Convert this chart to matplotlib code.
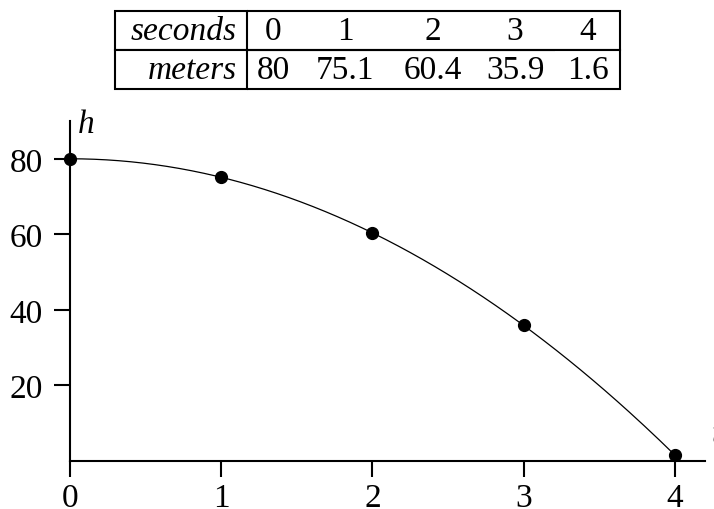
import numpy as np
import matplotlib
matplotlib.use('Agg')
import matplotlib.pyplot as plt

seconds = [0, 1, 2, 3, 4]
meters = [80, 75.1, 60.4, 35.9, 1.6]
x_ticks = [0, 1, 2, 3, 4]
y_ticks = [20, 40, 60, 80]
row_labels = ['seconds', 'meters']

plt.rcParams['font.family'] = ['Liberation Serif', 'DejaVu Serif']

W, H = 714, 510
fig = plt.figure(figsize=(W / 100, H / 100), dpi=100)

# plot axes
ax = fig.add_axes([70 / W, (H - 462) / H, (705 - 70) / W, (462 - 122) / H])
ax.set_xlim(0, 4.2)
ax.set_ylim(0, 90)
ax.spines['top'].set_visible(False)
ax.spines['right'].set_visible(False)
for s in ['left', 'bottom']:
    ax.spines[s].set_linewidth(1.5)
ax.set_xticks(x_ticks)
ax.set_yticks(y_ticks)
ax.tick_params(direction='out', length=11.5, width=1.5, labelsize=24)
ax.tick_params(axis='x', pad=4)
ax.tick_params(axis='y', pad=8)

# quadratic model fitted to the table values
coef = np.polyfit(seconds, meters, 2)
tt = np.linspace(seconds[0], seconds[-1], 200)
ax.plot(tt, np.polyval(coef, tt), color='black', lw=0.9)
ax.plot(seconds, meters, 'o', color='black', ms=8.5, clip_on=False, zorder=5)

ax.text(0.05, 87.2, 'h', fontsize=24, style='italic', ha='left', va='baseline')
ax.text(4.245, 5.0, 't', fontsize=24, style='italic', ha='left', va='baseline',
        clip_on=False)

# value table on top
tax = fig.add_axes([115 / W, (H - 90) / H, (620 - 115) / W, (90 - 12) / H])
tax.axis('off')
cells = [[row_labels[0]] + [str(s) for s in seconds],
         [row_labels[1]] + [str(m) for m in meters]]
widths = np.array([132, 53, 90, 85, 80, 65], dtype=float)
tbl = tax.table(cellText=cells, colWidths=list(widths / widths.sum()),
                cellLoc='center', bbox=[0, 0, 1, 1])
tbl.auto_set_font_size(False)
ncols = len(widths)
for (r, c), cell in tbl.get_celld().items():
    cell.set_linewidth(1.5)
    txt = cell.get_text()
    txt.set_fontsize(24)
    if c == 0:
        cell.visible_edges = 'closed'
        txt.set_style('italic')
        txt.set_ha('right')
        cell.PAD = 0.08
    elif c == ncols - 1:
        cell.visible_edges = 'TBR'
    else:
        cell.visible_edges = 'TB'

fig.savefig('out.png', dpi=100)
